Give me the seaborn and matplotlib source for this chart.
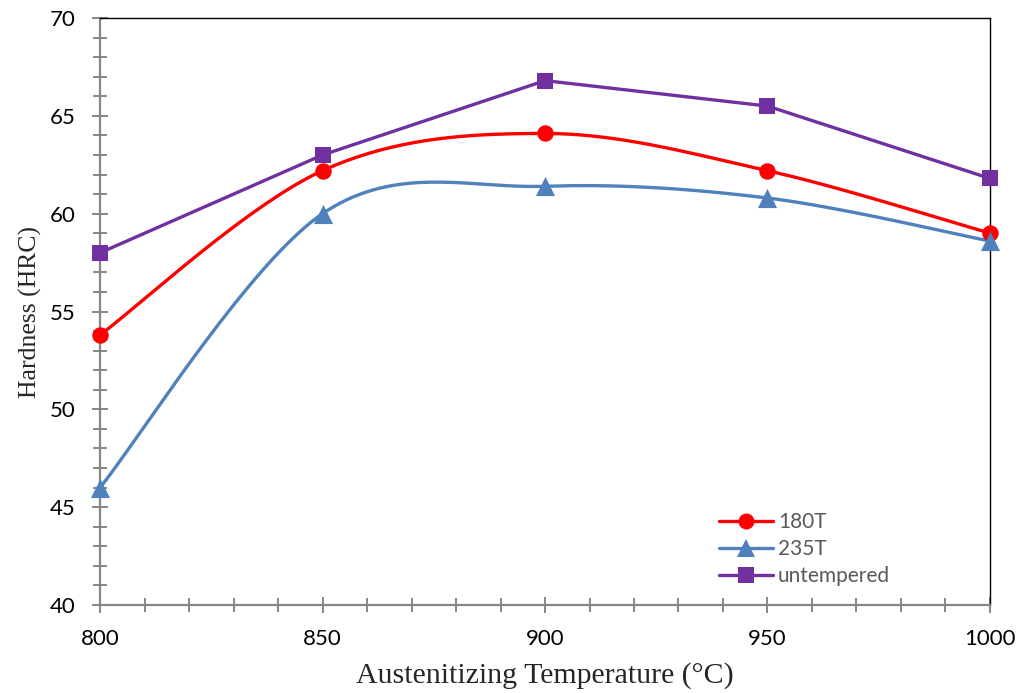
import numpy as np
import pandas as pd
import matplotlib
matplotlib.use("Agg")
import matplotlib.pyplot as plt
from matplotlib.lines import Line2D
from matplotlib.ticker import MultipleLocator
import seaborn as sns

# Hardness after austenitizing at each temperature
temperature = [800, 850, 900, 950, 1000]
hrc_180t = [53.8, 62.2, 64.1, 62.2, 59.0]
hrc_235t = [46.0, 60.0, 61.4, 60.8, 58.6]
hrc_untempered = [58.0, 63.0, 66.8, 65.5, 61.8]

series_names = ["180T", "235T", "untempered"]
series_values = [hrc_180t, hrc_235t, hrc_untempered]
series_colors = ["#FF0000", "#4F81BD", "#7030A0"]
series_markers = ["o", "^", "s"]
series_marker_area = [140, 190, 130]
series_smooth = [True, True, False]


def smooth_curve(xs, ys, n=40):
    """Cubic Bezier smoothing through every point (Catmull-Rom style)."""
    pts = np.column_stack([xs, ys]).astype(float)
    ext = np.vstack([pts[0], pts, pts[-1]])
    out = []
    t = np.linspace(0, 1, n)[:, None]
    for i in range(1, len(ext) - 2):
        p0, p1, p2, p3 = ext[i - 1], ext[i], ext[i + 1], ext[i + 2]
        c1 = p1 + (p2 - p0) / 6.0
        c2 = p2 - (p3 - p1) / 6.0
        seg = ((1 - t) ** 3) * p1 + 3 * ((1 - t) ** 2) * t * c1 \
            + 3 * (1 - t) * t ** 2 * c2 + t ** 3 * p2
        out.append(seg if i == 1 else seg[1:])
    curve = np.vstack(out)
    return curve[:, 0], curve[:, 1]


sns.set_theme(style="white")
plt.rcParams["font.family"] = ["Lato", "DejaVu Sans"]

fig = plt.figure(figsize=(10.21, 6.93), dpi=100)
ax = fig.add_axes([0.098, 0.127, 0.8716, 0.847])

palette = dict(zip(series_names, series_colors))

line_rows = []
for name, vals, smooth in zip(series_names, series_values, series_smooth):
    if smooth:
        cx, cy = smooth_curve(temperature, vals)
    else:
        cx, cy = np.array(temperature, float), np.array(vals, float)
    for a, b in zip(cx, cy):
        line_rows.append({"T": a, "HRC": b, "series": name})
lines_df = pd.DataFrame(line_rows)

sns.lineplot(data=lines_df, x="T", y="HRC", hue="series", palette=palette,
             sort=False, estimator=None, units="series", linewidth=2.4,
             legend=False, ax=ax, zorder=2)

for name, vals, color, marker, area in zip(series_names, series_values,
                                           series_colors, series_markers,
                                           series_marker_area):
    pts = pd.DataFrame({"T": temperature, "HRC": vals})
    sns.scatterplot(data=pts, x="T", y="HRC", color=color, marker=marker,
                    s=area, linewidth=0, legend=False, ax=ax, zorder=3,
                    clip_on=False)

ax.set_xlim(800, 1000)
ax.set_ylim(40, 70)
ax.xaxis.set_major_locator(MultipleLocator(50))
ax.xaxis.set_minor_locator(MultipleLocator(10))
ax.yaxis.set_major_locator(MultipleLocator(5))
ax.yaxis.set_minor_locator(MultipleLocator(1))

axis_gray = "#868686"
for side in ("left", "bottom"):
    ax.spines[side].set_color(axis_gray)
    ax.spines[side].set_linewidth(1.6)
for side in ("top", "right"):
    ax.spines[side].set_color("#000000")
    ax.spines[side].set_linewidth(1.0)

ax.tick_params(which="both", direction="inout", color=axis_gray, width=1.4,
               labelsize=16, labelcolor="#000000", left=True, bottom=True)
ax.tick_params(which="major", length=11, pad=12)
ax.tick_params(which="minor", length=10)

ax.set_xlabel("Austenitizing Temperature (°C)",
              fontdict={"family": ["Liberation Serif"], "size": 21.5},
              labelpad=9)
ax.set_ylabel("Hardness (HRC)",
              fontdict={"family": ["Liberation Serif"], "size": 18.5},
              labelpad=6)

handles = [Line2D([0], [0], color=c, marker=m, markersize=ms, linewidth=2.4,
                  markeredgewidth=0)
           for c, m, ms in zip(series_colors, series_markers, [11.5, 13, 11])]
ax.legend(handles, series_names, loc="lower left",
          bbox_to_anchor=(0.674, 0.0), frameon=False, fontsize=15,
          handlelength=2.6, labelspacing=0.33, handletextpad=0.25,
          labelcolor="#595959")

fig.savefig("out.png", dpi=100)
